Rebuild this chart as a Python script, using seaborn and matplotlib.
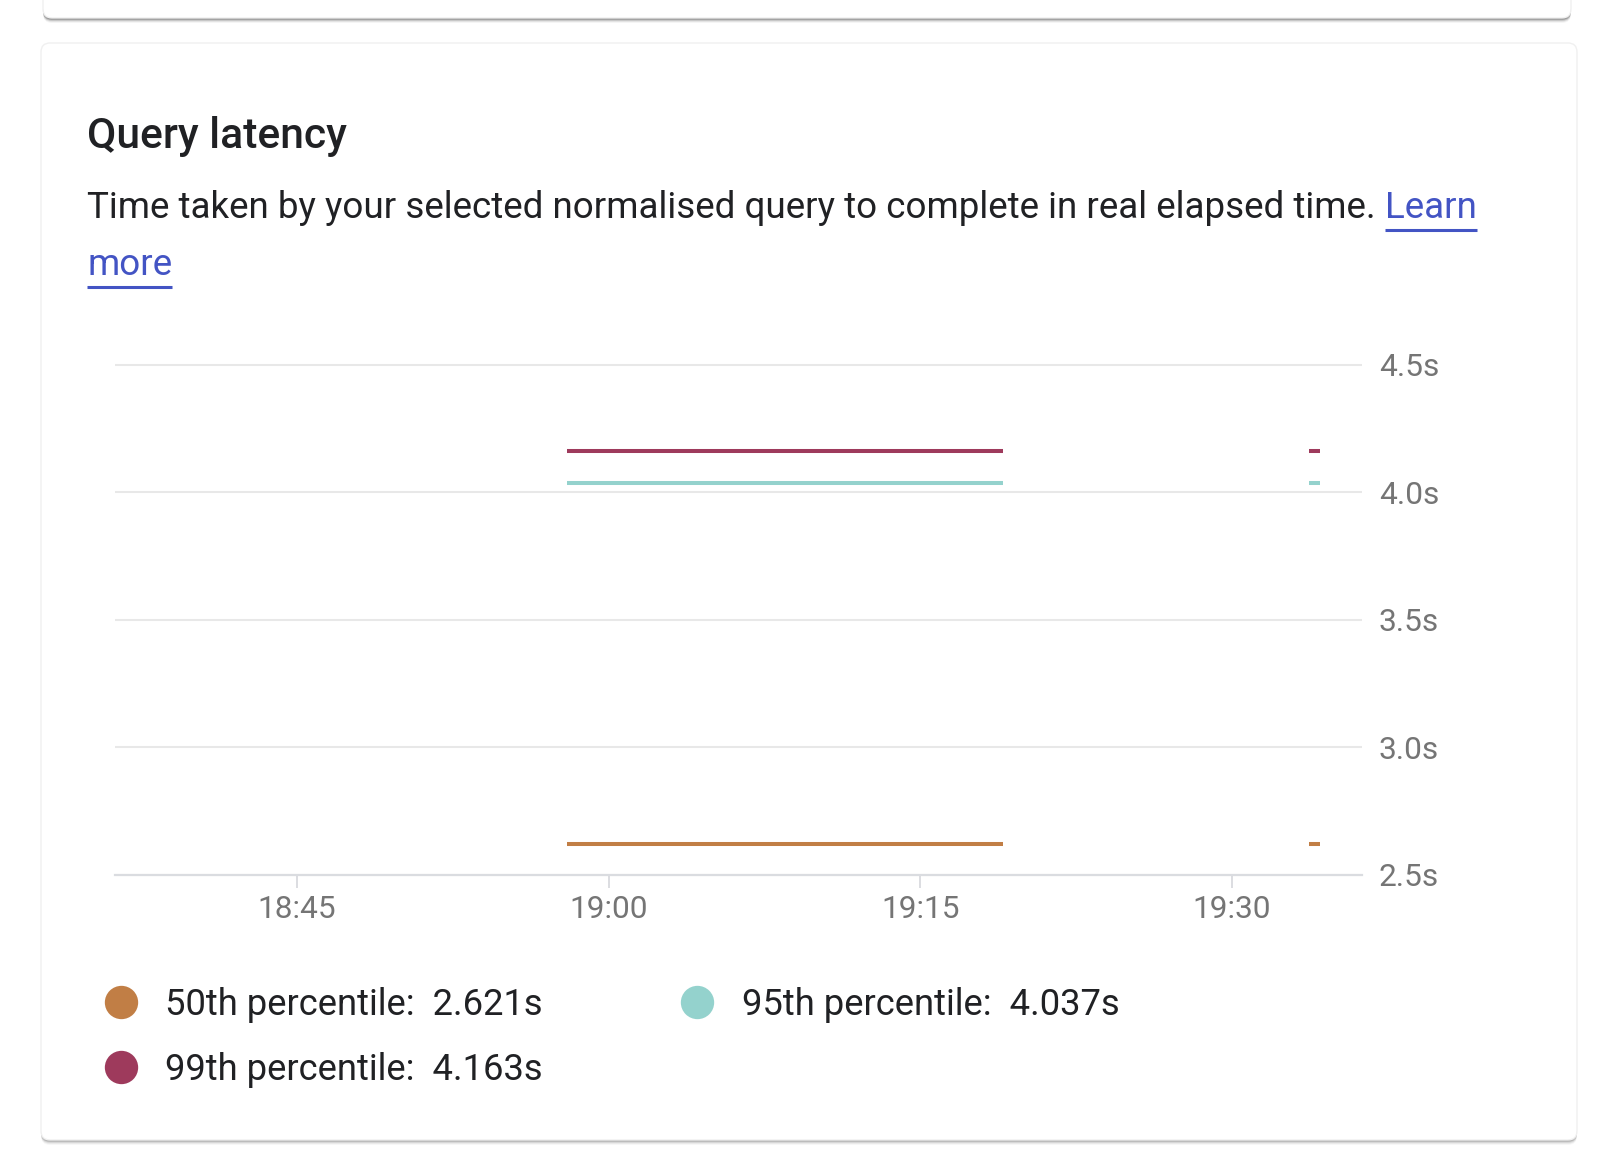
import matplotlib
matplotlib.use("Agg")
import matplotlib.pyplot as plt
import matplotlib.dates as mdates
from matplotlib.patches import FancyBboxPatch
from matplotlib.lines import Line2D
from matplotlib.ticker import FixedLocator, FuncFormatter
import seaborn as sns
import pandas as pd

# ---------------- data ----------------
percentiles = ["50th percentile", "95th percentile", "99th percentile"]
latency_values = [2.621, 4.037, 4.163]
series_colors = ["#c17e45", "#94d2cd", "#9e3a5c"]
segment_starts = ["2024-01-01 18:58:00", "2024-01-01 19:33:42"]
segment_ends = ["2024-01-01 19:19:00", "2024-01-01 19:34:14"]
x_range = ["2024-01-01 18:36:15", "2024-01-01 19:36:15"]
y_ticks = [2.5, 3.0, 3.5, 4.0, 4.5]
x_tick_minutes = [0, 15, 30, 45]

title_text = "Query latency"
subtitle_text = "Time taken by your selected normalised query to complete in real elapsed time."
link_text_1 = "Learn"
link_text_2 = "more"

rows = []
for p, v in zip(percentiles, latency_values):
    for seg, (s, e) in enumerate(zip(segment_starts, segment_ends)):
        rows.append({"time": pd.Timestamp(s), "latency": v, "percentile": p, "segment": seg})
        rows.append({"time": pd.Timestamp(e), "latency": v, "percentile": p, "segment": seg})
df = pd.DataFrame(rows)

# ---------------- figure ----------------
sns.set_theme(style="white")
plt.rcParams["font.family"] = ["Roboto", "DejaVu Sans"]

W, H = 1600, 1165
fig = plt.figure(figsize=(W / 100, H / 100), dpi=100)
fig.patch.set_facecolor("white")

# background / card layer in pixel coordinates
bg = fig.add_axes([0, 0, 1, 1], zorder=0)
bg.set_xlim(0, W)
bg.set_ylim(H, 0)
bg.axis("off")

def card(x0, y0, x1, y1, shadow):
    for off, a in shadow:
        bg.add_patch(FancyBboxPatch((x0, y0 + off), x1 - x0, y1 - y0,
                                    boxstyle="round,pad=0,rounding_size=9",
                                    facecolor="black", alpha=a, edgecolor="none"))
    bg.add_patch(FancyBboxPatch((x0, y0), x1 - x0, y1 - y0,
                                boxstyle="round,pad=0,rounding_size=9",
                                facecolor="white", edgecolor="#f0f0f0", linewidth=1.0))

card(43, -60, 1571, 18, [(5, 0.04), (4, 0.07), (3, 0.12), (2, 0.18), (1, 0.22)])
card(41, 43, 1577, 1140, [(5, 0.03), (4, 0.05), (3, 0.08), (2, 0.12), (1, 0.14)])

# ---------------- texts ----------------
sub_fs = 26.5
fig.text(87 / W, 1 - 148 / H, title_text, fontsize=30.7, fontweight="medium",
         color="#202124", va="baseline", ha="left")
sub = fig.text(87 / W, 1 - 218 / H, subtitle_text, fontsize=sub_fs,
               color="#202124", va="baseline", ha="left")
fig.canvas.draw()
renderer = fig.canvas.get_renderer()
bb = sub.get_window_extent(renderer)
link_color = "#4354c4"
sp = fig.text(0, 0, "a a", fontsize=sub_fs)
sp_w = sp.get_window_extent(renderer).width
sp2 = fig.text(0, 0, "aa", fontsize=sub_fs)
space_w = sp_w - sp2.get_window_extent(renderer).width
sp.remove(); sp2.remove()

l1 = fig.text((bb.x1 + space_w) / W, 1 - 218 / H, link_text_1, fontsize=sub_fs,
              color=link_color, va="baseline", ha="left")
l2 = fig.text(87 / W, 1 - 275 / H, link_text_2, fontsize=sub_fs,
              color=link_color, va="baseline", ha="left")
fig.canvas.draw()
for t, base in [(l1, 218), (l2, 275)]:
    b = t.get_window_extent(renderer)
    bg.plot([b.x0, b.x1], [base + 12, base + 12], color=link_color, lw=2.2,
            solid_capstyle="butt")

# ---------------- plot axes ----------------
px_per_unit = (875 - 365) / 2.0
ylo, yhi = 2.45, 4.55
ax_top = 365 - (yhi - 4.5) * px_per_unit
ax_bot = 875 + (2.5 - ylo) * px_per_unit
ax = fig.add_axes([115 / W, 1 - ax_bot / H, (1362 - 115) / W, (ax_bot - ax_top) / H], zorder=2)
ax.set_facecolor("none")

sns.lineplot(data=df, x="time", y="latency", hue="percentile", units="segment",
             estimator=None, palette=dict(zip(percentiles, series_colors)),
             linewidth=2.9, legend=False, ax=ax, solid_capstyle="butt")

ax.set_xlim(pd.Timestamp(x_range[0]), pd.Timestamp(x_range[1]))
ax.set_ylim(ylo, yhi)
ax.set_xlabel("")
ax.set_ylabel("")

for s in ["top", "left", "right"]:
    ax.spines[s].set_visible(False)
ax.spines["bottom"].set_position(("data", 2.5))
ax.spines["bottom"].set_color("#dadce0")
ax.spines["bottom"].set_linewidth(1.6)

ax.yaxis.tick_right()
ax.yaxis.set_major_locator(FixedLocator(y_ticks))
ax.yaxis.set_major_formatter(FuncFormatter(lambda v, p: f"{v:.1f}s"))
ax.tick_params(axis="y", length=0, pad=12, labelsize=22.8, labelcolor="#757575")
ax.grid(axis="y", color="#e8e8e8", linewidth=1.5)
ax.grid(axis="x", visible=False)

ax.xaxis.set_major_locator(mdates.MinuteLocator(byminute=x_tick_minutes))
ax.xaxis.set_major_formatter(mdates.DateFormatter("%H:%M"))
ax.tick_params(axis="x", direction="out", length=9.5, width=1.2, color="#d5d7db",
               labelsize=22.8, labelcolor="#757575", pad=5, bottom=True)

# ---------------- legend ----------------
leg_fs = 26.2
fs_px = leg_fs * 100 / 72
labels = [f"{p}:  {v:.3f}s" for p, v in zip(percentiles, latency_values)]
order = [0, 2, 1]
handles = [Line2D([], [], marker="o", linestyle="none", markersize=24,
                  markerfacecolor=series_colors[i], markeredgewidth=0) for i in order]
ordered_labels = [labels[i] for i in order]

tmp = [fig.text(0, 0, labels[i], fontsize=leg_fs) for i in (0, 2)]
fig.canvas.draw()
col1_w = max(t.get_window_extent(renderer).width for t in tmp)
for t in tmp:
    t.remove()

handle_left = 120.5 - fs_px * 0.5
text_start = 165
htp = (text_start - handle_left - fs_px) / fs_px
col2_handle_left = 697 - fs_px * 0.5
colspace = (col2_handle_left - (text_start + col1_w)) / fs_px

fig.legend(handles, ordered_labels, loc="upper left",
           bbox_to_anchor=(handle_left / W, 1 - 987 / H), ncol=2, frameon=False,
           fontsize=leg_fs, handlelength=1.0, handletextpad=htp, columnspacing=colspace,
           labelspacing=0.8, borderpad=0, borderaxespad=0,
           labelcolor="#202124")

fig.savefig("out.png", dpi=100, facecolor="white")
